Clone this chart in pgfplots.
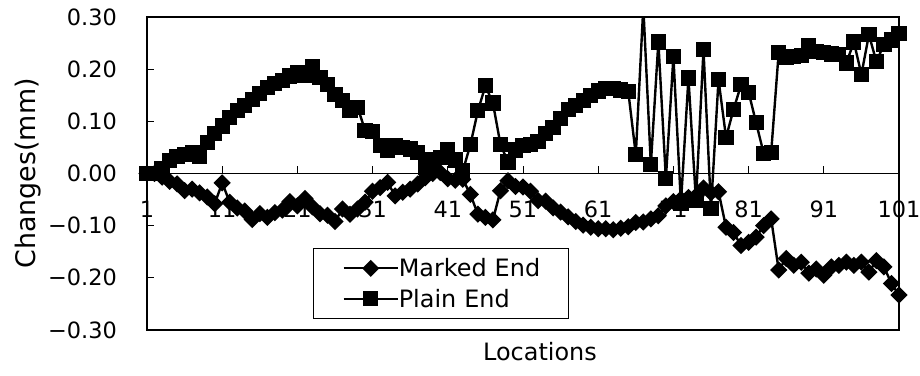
\documentclass[border=0pt]{standalone}
\usepackage{fontspec}
\setmainfont{DejaVu Sans}
\usepackage{pgfplots}
\usepackage{pgfplotstable}
\pgfplotsset{compat=1.18}
\pgfplotstableread{
x y
1 0.000
2 0.000
3 -0.007
4 -0.015
5 -0.020
6 -0.033
7 -0.030
8 -0.037
9 -0.045
10 -0.058
11 -0.018
12 -0.055
13 -0.066
14 -0.072
15 -0.088
16 -0.077
17 -0.084
18 -0.075
19 -0.070
20 -0.054
21 -0.062
22 -0.048
23 -0.064
24 -0.077
25 -0.080
26 -0.092
27 -0.068
28 -0.078
29 -0.068
30 -0.055
31 -0.034
32 -0.027
33 -0.017
34 -0.043
35 -0.036
36 -0.030
37 -0.020
38 -0.008
39 0.000
40 0.002
41 -0.010
42 -0.013
43 -0.011
44 -0.040
45 -0.078
46 -0.084
47 -0.089
48 -0.033
49 -0.014
50 -0.025
51 -0.026
52 -0.034
53 -0.052
54 -0.053
55 -0.066
56 -0.074
57 -0.083
58 -0.092
59 -0.099
60 -0.103
61 -0.106
62 -0.106
63 -0.108
64 -0.105
65 -0.102
66 -0.094
67 -0.093
68 -0.087
69 -0.081
70 -0.062
71 -0.054
72 -0.049
73 -0.046
74 -0.043
75 -0.028
76 -0.037
77 -0.035
78 -0.103
79 -0.113
80 -0.138
81 -0.132
82 -0.122
83 -0.100
84 -0.087
85 -0.185
86 -0.163
87 -0.176
88 -0.170
89 -0.191
90 -0.183
91 -0.195
92 -0.179
93 -0.176
94 -0.170
95 -0.176
96 -0.170
97 -0.189
98 -0.167
99 -0.179
100 -0.211
101 -0.233
}\marked
\pgfplotstableread{
x y
1 0.000
2 0.000
3 0.010
4 0.025
5 0.033
6 0.037
7 0.041
8 0.033
9 0.059
10 0.077
11 0.091
12 0.107
13 0.120
14 0.131
15 0.142
16 0.153
17 0.165
18 0.172
19 0.179
20 0.187
21 0.194
22 0.188
23 0.205
24 0.184
25 0.170
26 0.152
27 0.140
28 0.121
29 0.127
30 0.083
31 0.080
32 0.053
33 0.045
34 0.053
35 0.050
36 0.047
37 0.040
38 0.012
39 0.026
40 0.030
41 0.046
42 0.026
43 0.005
44 0.055
45 0.120
46 0.168
47 0.135
48 0.056
49 0.022
50 0.045
51 0.053
52 0.056
53 0.062
54 0.077
55 0.088
56 0.106
57 0.123
58 0.130
59 0.140
60 0.150
61 0.158
62 0.163
63 0.163
64 0.160
65 0.157
66 0.036
67 0.320
68 0.017
69 0.252
70 -0.010
71 0.224
72 -0.058
73 0.183
74 -0.052
75 0.237
76 -0.067
77 0.180
78 0.069
79 0.123
80 0.170
81 0.156
82 0.097
83 0.039
84 0.040
85 0.232
86 0.223
87 0.224
88 0.226
89 0.246
90 0.234
91 0.232
92 0.229
93 0.228
94 0.212
95 0.252
96 0.190
97 0.266
98 0.214
99 0.248
100 0.256
101 0.268
}\plain
\begin{document}
\begin{tikzpicture}
\begin{axis}[
  name=ax,
  set layers,
  scale only axis, width=752bp, height=313bp,
  at={(0,0)}, anchor=south west,
  xmin=1, xmax=101, ymin=-0.3, ymax=0.3,
  axis x line=middle, axis y line=left,
  hide obscured x ticks=false, hide obscured y ticks=false,
  axis line style={-, line width=1bp, black},
  xtick={1,11,21,31,41,51,61,71,81,91,101},
  xticklabels={1,11,21,31,41,51,61,71,81,91,101},
  ytick={-0.3,-0.2,-0.1,0,0.1,0.2,0.3},
  yticklabels={−0.30,−0.20,−0.10,0.00,0.10,0.20,0.30},
  tick align=inside,
  major tick length=7bp,
  tick style={line width=1bp, black},
  xticklabel style={font=\fontsize{22.5}{26}\selectfont, anchor=north, inner sep=0pt, yshift=-27bp},
  yticklabel style={font=\fontsize{22.5}{26}\selectfont, anchor=east, inner sep=0pt, xshift=-30bp},
  every axis x label/.style={at={(axis description cs:0.5226,-0.0703)}, anchor=center, font=\fontsize{24}{28}\selectfont},
  every axis y label/.style={at={(axis description cs:-0.1576,0.5)}, anchor=center, rotate=90, font=\fontsize{27}{30}\selectfont},
  xlabel={Locations},
  ylabel={Changes(mm)},
  legend image code/.code={\path[draw=none] (0bp,-7bp) rectangle (84bp,7bp); \draw[mark repeat=2,mark phase=2,#1,line width=2.2bp] plot coordinates {(30bp,0bp) (57bp,0bp) (84bp,0bp)};},
  legend style={at={(rel axis cs:0.221,0.262)}, anchor=north west, draw=black, line width=1bp,
    inner xsep=0bp, inner ysep=10bp, row sep=11bp, font=\fontsize{24}{28}\selectfont,
    cells={anchor=west}, nodes={inner sep=0bp, text width=170bp},
    /tikz/every even column/.append style={column sep=6bp}},
]
\addplot[black, line width=2.4bp, mark=square*, mark size=4.9bp, mark options={rotate=45, solid}] table[x=x,y=y] {\marked};
\addlegendentry{Marked End}
\addplot[black, line width=2.4bp, mark=square*, mark size=6.4bp, mark options={solid}] table[x=x,y=y] {\plain};
\addlegendentry{Plain End}
\end{axis}
\draw[line width=1.5bp] (ax.south west) rectangle (ax.north east);
\pgfresetboundingbox
\useasboundingbox (-147bp,-46bp) rectangle (773bp,330bp);
\end{tikzpicture}
\end{document}
